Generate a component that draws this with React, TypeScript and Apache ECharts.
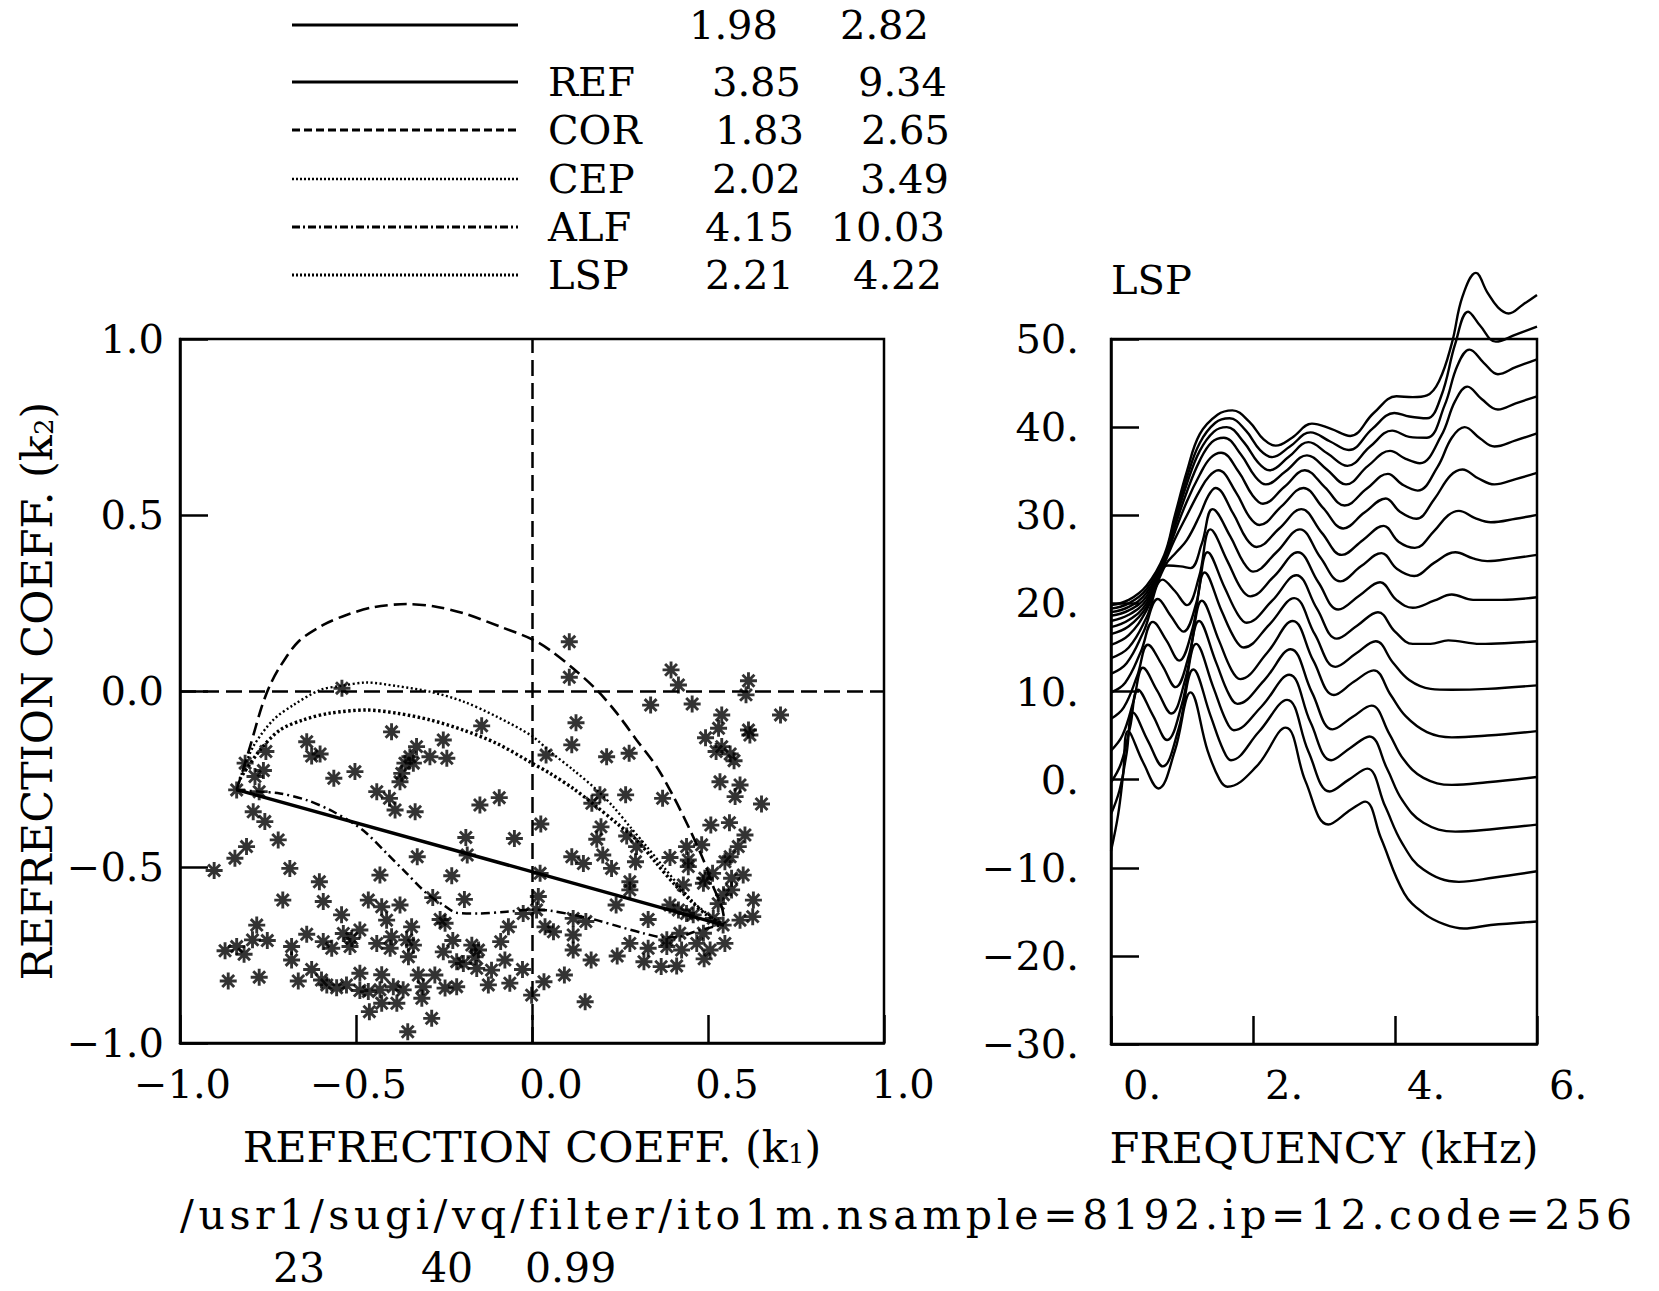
import React, { useEffect, useRef } from 'react';
import * as echarts from 'echarts';

const FONT = 'DejaVu Serif';

// ---------- left plot: reflection coefficients ----------
const scatterPoints: number[][] = [
  [-0.54, 0.008], [-0.399, -0.116], [-0.143, -0.099], [-0.64, -0.144], [-0.626, -0.185], [-0.602, -0.179],
  [-0.756, -0.172], [-0.815, -0.205], [-0.763, -0.226], [-0.787, -0.243], [-0.563, -0.248], [-0.503, -0.229],
  [-0.328, -0.158], [-0.347, -0.187], [-0.361, -0.205], [-0.337, -0.205], [-0.37, -0.234], [-0.375, -0.258],
  [-0.29, -0.187], [-0.252, -0.139], [-0.242, -0.191], [-0.839, -0.281], [-0.775, -0.286], [-0.441, -0.286],
  [-0.405, -0.305], [-0.389, -0.338], [-0.332, -0.343], [-0.792, -0.343], [-0.759, -0.371], [-0.148, -0.324],
  [-0.093, -0.303], [-0.721, -0.423], [-0.811, -0.442], [-0.844, -0.475], [-0.903, -0.51], [-0.188, -0.416],
  [-0.05, -0.419], [-0.184, -0.466], [-0.326, -0.471], [-0.688, -0.504], [-0.432, -0.523], [-0.228, -0.525],
  [-0.604, -0.542], [-0.708, -0.594], [-0.593, -0.598], [-0.465, -0.594], [-0.427, -0.613], [-0.375, -0.608],
  [-0.282, -0.587], [-0.192, -0.592], [-0.541, -0.636], [-0.413, -0.651], [-0.261, -0.649], [-0.247, -0.66],
  [-0.782, -0.665], [-0.794, -0.707], [-0.752, -0.709], [-0.342, -0.67], [-0.489, -0.679], [-0.536, -0.689],
  [-0.512, -0.703], [-0.64, -0.691], [-0.399, -0.698], [-0.067, -0.67], [-0.025, -0.632], [-0.872, -0.738],
  [-0.839, -0.726], [-0.818, -0.748], [-0.683, -0.726], [-0.683, -0.764], [-0.593, -0.712], [-0.569, -0.731],
  [-0.517, -0.726], [-0.441, -0.717], [-0.403, -0.731], [-0.356, -0.707], [-0.337, -0.722], [-0.351, -0.755],
  [-0.225, -0.709], [-0.252, -0.741], [-0.171, -0.722], [-0.152, -0.736], [-0.089, -0.712], [-0.214, -0.769],
  [-0.195, -0.774], [-0.162, -0.755], [-0.157, -0.788], [-0.077, -0.764], [-0.115, -0.793], [-0.027, -0.791],
  [-0.863, -0.824], [-0.775, -0.813], [-0.664, -0.824], [-0.626, -0.791], [-0.598, -0.821], [-0.583, -0.835],
  [-0.555, -0.843], [-0.527, -0.835], [-0.489, -0.802], [-0.489, -0.851], [-0.465, -0.854], [-0.427, -0.806],
  [-0.432, -0.849], [-0.394, -0.84], [-0.366, -0.849], [-0.427, -0.887], [-0.384, -0.887], [-0.323, -0.807],
  [-0.276, -0.807], [-0.309, -0.84], [-0.313, -0.873], [-0.247, -0.844], [-0.214, -0.84], [-0.124, -0.835],
  [-0.063, -0.83], [-0.001, -0.864], [-0.462, -0.911], [-0.285, -0.93], [-0.353, -0.968],
  [0.106, 0.14], [0.106, 0.039], [0.395, 0.06], [0.416, 0.017], [0.615, 0.029], [0.608, -0.011],
  [0.337, -0.04], [0.455, -0.037], [0.706, -0.068], [0.539, -0.068], [0.53, -0.106], [0.615, -0.111],
  [0.619, -0.125], [0.493, -0.133], [0.539, -0.158], [0.523, -0.172], [0.563, -0.179], [0.574, -0.198],
  [0.125, -0.09], [0.113, -0.153], [0.04, -0.182], [0.212, -0.187], [0.276, -0.177], [0.534, -0.258],
  [0.591, -0.267], [0.577, -0.3], [0.652, -0.321], [0.193, -0.295], [0.17, -0.319], [0.266, -0.295],
  [0.371, -0.305], [0.025, -0.378], [0.196, -0.386], [0.184, -0.421], [0.269, -0.412], [0.297, -0.442],
  [0.508, -0.381], [0.561, -0.374], [0.605, -0.409], [0.586, -0.442], [0.482, -0.437], [0.439, -0.442],
  [0.563, -0.471], [0.548, -0.485], [0.113, -0.471], [0.146, -0.49], [0.201, -0.466], [0.226, -0.504],
  [0.294, -0.485], [0.392, -0.473], [0.444, -0.48], [0.444, -0.499], [0.023, -0.518], [0.278, -0.542],
  [0.278, -0.565], [0.491, -0.532], [0.513, -0.518], [0.487, -0.546], [0.43, -0.551], [0.567, -0.532],
  [0.6, -0.523], [0.567, -0.565], [0.544, -0.579], [0.629, -0.594], [0.529, -0.604], [0.018, -0.584],
  [0.013, -0.622], [0.239, -0.608], [0.392, -0.608], [0.416, -0.622], [0.439, -0.632], [0.458, -0.636],
  [0.515, -0.646], [0.543, -0.665], [0.591, -0.651], [0.627, -0.641], [0.33, -0.649], [0.037, -0.67],
  [0.061, -0.684], [0.117, -0.646], [0.153, -0.655], [0.117, -0.693], [0.117, -0.736], [0.383, -0.707],
  [0.42, -0.688], [0.383, -0.726], [0.425, -0.736], [0.468, -0.717], [0.487, -0.688], [0.506, -0.736],
  [0.548, -0.717], [0.489, -0.761], [0.278, -0.717], [0.33, -0.731], [0.242, -0.753], [0.168, -0.764],
  [0.318, -0.769], [0.367, -0.783], [0.411, -0.781], [0.092, -0.807], [0.034, -0.826], [0.151, -0.883],
];

const refLine = [[-0.84, -0.28], [0.545, -0.665]];
const corLine = [
  [-0.839, -0.281], [-0.801, -0.158], [-0.768, -0.045], [-0.744, 0.017], [-0.716, 0.069], [-0.664, 0.14],
  [-0.593, 0.188], [-0.527, 0.216], [-0.451, 0.238], [-0.356, 0.247], [-0.28, 0.241], [-0.195, 0.221],
  [-0.091, 0.183], [0.0, 0.147], [0.051, 0.116], [0.117, 0.064], [0.184, 0.003], [0.241, -0.063],
  [0.297, -0.139], [0.354, -0.215], [0.402, -0.3], [0.449, -0.395], [0.487, -0.48], [0.515, -0.556],
  [0.539, -0.613], [0.548, -0.66],
];
const cepLine = [
  [-0.83, -0.25], [-0.792, -0.158], [-0.735, -0.082], [-0.678, -0.04], [-0.602, 0.003], [-0.545, 0.014],
  [-0.47, 0.024], [-0.384, 0.014], [-0.29, -0.002], [-0.195, -0.03], [-0.1, -0.073], [0.0, -0.128],
  [0.051, -0.172], [0.117, -0.224], [0.184, -0.281], [0.231, -0.329], [0.278, -0.385], [0.326, -0.442],
  [0.373, -0.499], [0.42, -0.556], [0.462, -0.603], [0.515, -0.646], [0.545, -0.665],
];
const alfLine = [
  [-0.839, -0.281], [-0.773, -0.286], [-0.716, -0.291], [-0.64, -0.31], [-0.574, -0.338], [-0.508, -0.376],
  [-0.47, -0.404], [-0.413, -0.461], [-0.356, -0.518], [-0.299, -0.575], [-0.252, -0.608], [-0.214, -0.63],
  [-0.148, -0.632], [-0.072, -0.627], [0.0, -0.621], [0.051, -0.624], [0.117, -0.636], [0.184, -0.651],
  [0.25, -0.67], [0.316, -0.688], [0.373, -0.7], [0.42, -0.698], [0.462, -0.684], [0.515, -0.67], [0.545, -0.665],
];
const lspLine = [
  [-0.83, -0.25], [-0.773, -0.168], [-0.716, -0.111], [-0.65, -0.082], [-0.574, -0.063], [-0.47, -0.054],
  [-0.384, -0.063], [-0.29, -0.082], [-0.195, -0.111], [-0.1, -0.149], [-0.003, -0.203], [0.051, -0.234],
  [0.117, -0.277], [0.184, -0.329], [0.241, -0.376], [0.297, -0.423], [0.354, -0.49], [0.402, -0.546],
  [0.449, -0.594], [0.496, -0.636], [0.545, -0.665],
];

// ---------- right plot: LSP spectra (kHz, dB), top curve first ----------
const spec01 = [[0,19.8],[0.25,20.4],[0.5,22.0],[0.75,25.5],[0.9,30.0],[1.07,35.0],[1.25,39.2],[1.5,41.4],[1.71,41.9],[1.95,40.6],[2.15,38.6],[2.32,37.9],[2.55,38.8],[2.83,40.4],[3.1,39.8],[3.37,39.0],[3.7,41.6],[4.02,43.5],[4.25,43.4],[4.45,43.6],[4.62,45.2],[4.8,49.5],[4.95,54.8],[5.14,57.5],[5.3,55.3],[5.45,53.6],[5.6,52.9],[5.8,53.9],[6.0,55.0]];
const spec02 = [[0,19.4],[0.25,20.0],[0.5,21.6],[0.75,25.2],[0.9,29.6],[1.07,34.3],[1.25,38.2],[1.47,40.5],[1.67,41.0],[1.9,39.6],[2.1,37.4],[2.27,36.6],[2.52,37.8],[2.81,39.4],[3.08,38.4],[3.35,37.4],[3.68,39.8],[3.99,41.6],[4.2,41.2],[4.45,41.0],[4.65,43.5],[4.85,49.5],[5.03,53.1],[5.2,51.5],[5.42,49.7],[5.7,50.5],[6.0,51.4]];
const spec03 = [[0,19.0],[0.25,19.6],[0.5,21.2],[0.75,25.0],[0.9,29.2],[1.07,33.6],[1.25,37.3],[1.45,39.5],[1.63,40.0],[1.87,38.3],[2.07,36.0],[2.23,35.1],[2.5,36.6],[2.78,38.3],[3.05,37.0],[3.33,35.6],[3.65,37.8],[3.96,39.6],[4.2,38.9],[4.45,38.8],[4.7,42.5],[4.88,47.0],[5.05,48.8],[5.25,47.3],[5.45,46.0],[5.7,46.8],[6.0,47.7]];
const spec04 = [[0,18.6],[0.25,19.2],[0.5,20.8],[0.75,24.9],[0.9,28.7],[1.07,32.7],[1.25,36.2],[1.42,38.3],[1.59,38.8],[1.83,36.9],[2.03,34.4],[2.18,33.5],[2.46,35.0],[2.76,36.8],[3.04,35.2],[3.31,33.5],[3.62,35.6],[3.93,37.3],[4.15,36.4],[4.35,35.9],[4.65,39.0],[4.85,43.0],[5.02,44.6],[5.22,43.2],[5.45,42.0],[5.7,42.7],[6.0,43.5]];
const spec05 = [[0,18.0],[0.25,18.7],[0.5,20.4],[0.75,24.7],[0.9,28.1],[1.07,31.6],[1.25,34.6],[1.4,36.5],[1.55,37.1],[1.8,34.9],[1.99,32.3],[2.14,31.3],[2.44,33.2],[2.73,35.1],[3.01,33.2],[3.29,31.1],[3.6,33.0],[3.9,34.7],[4.1,33.5],[4.32,32.8],[4.6,35.5],[4.8,38.8],[4.98,40.0],[5.2,38.7],[5.4,37.8],[5.7,38.5],[6.0,39.3]];
const spec06 = [[0,17.3],[0.25,18.1],[0.5,20.0],[0.75,24.5],[0.9,27.3],[1.07,30.0],[1.25,32.8],[1.38,34.4],[1.51,35.1],[1.76,32.6],[1.95,29.8],[2.09,28.9],[2.4,31.0],[2.71,33.1],[2.99,30.8],[3.27,28.5],[3.57,30.3],[3.87,31.9],[4.07,30.4],[4.3,29.6],[4.55,31.8],[4.78,34.5],[4.95,35.2],[5.17,34.2],[5.4,33.5],[5.7,34.1],[6.0,34.8]];
const spec07 = [[0,16.5],[0.25,17.4],[0.5,19.6],[0.77,24.4],[0.92,25.8],[1.07,27.2],[1.25,30.0],[1.37,32.2],[1.47,33.1],[1.72,30.2],[1.91,27.3],[2.05,26.4],[2.37,28.5],[2.68,30.7],[2.97,28.0],[3.25,25.5],[3.55,27.2],[3.84,28.8],[4.05,27.0],[4.28,26.3],[4.55,28.2],[4.75,30.0],[4.9,30.5],[5.12,29.7],[5.35,29.2],[5.7,29.6],[6.0,30.05]];
const spec08 = [[0,15.3],[0.25,16.4],[0.5,19.2],[0.8,24.3],[0.98,24.2],[1.12,24.0],[1.28,26.8],[1.43,30.7],[1.68,27.6],[1.87,24.6],[2.0,23.6],[2.33,25.8],[2.66,28.4],[2.95,25.2],[3.23,22.5],[3.52,24.2],[3.81,25.7],[4.03,23.9],[4.27,23.1],[4.55,24.6],[4.85,25.8],[5.1,25.1],[5.3,24.8],[5.65,25.1],[6.0,25.5]];
const spec09 = [[0,13.8],[0.25,15.0],[0.5,18.4],[0.73,22.7],[0.9,21.4],[1.07,19.8],[1.24,23.0],[1.4,28.4],[1.64,24.8],[1.83,21.7],[1.96,20.8],[2.3,23.1],[2.63,25.8],[2.92,22.4],[3.2,19.3],[3.5,20.9],[3.79,22.4],[4.02,20.4],[4.25,19.5],[4.55,20.3],[4.8,21.0],[5.1,20.4],[5.5,20.4],[6.0,20.7]];
const spec10 = [[0,12.0],[0.22,13.2],[0.46,16.8],[0.66,20.5],[0.84,18.6],[1.02,16.8],[1.2,20.0],[1.36,25.8],[1.6,21.8],[1.79,18.7],[1.91,17.8],[2.27,20.3],[2.61,23.2],[2.9,19.4],[3.18,16.0],[3.47,17.5],[3.76,19.0],[4.0,16.8],[4.25,15.4],[4.5,15.4],[4.75,15.8],[5.2,15.4],[5.6,15.5],[6.0,15.7]];
const spec11 = [[0,9.9],[0.2,11.0],[0.42,14.5],[0.59,17.9],[0.78,15.8],[0.96,13.5],[1.15,17.2],[1.32,23.5],[1.56,19.1],[1.75,15.9],[1.87,15.0],[2.23,17.6],[2.58,20.6],[2.87,16.5],[3.16,12.8],[3.45,14.3],[3.73,15.7],[3.97,13.3],[4.2,11.3],[4.5,10.3],[4.8,10.2],[5.3,10.3],[6.0,10.7]];
const spec12 = [[0,6.9],[0.18,8.2],[0.37,11.8],[0.52,15.3],[0.72,13.0],[0.91,10.5],[1.1,14.2],[1.28,20.3],[1.52,15.8],[1.7,12.4],[1.82,11.4],[2.2,14.4],[2.56,18.0],[2.85,13.5],[3.14,9.6],[3.42,11.1],[3.7,12.4],[3.94,9.6],[4.15,7.2],[4.45,5.4],[4.8,4.8],[5.3,5.0],[6.0,5.5]];
const spec13 = [[0,3.3],[0.16,5.0],[0.32,9.0],[0.45,12.7],[0.65,10.1],[0.85,7.5],[1.05,11.5],[1.24,18.0],[1.48,13.3],[1.66,9.7],[1.78,8.6],[2.16,11.3],[2.53,14.8],[2.83,9.9],[3.12,5.7],[3.4,7.1],[3.67,8.4],[3.92,5.2],[4.12,2.3],[4.4,0.2],[4.8,-0.6],[5.3,-0.3],[6.0,0.3]];
const spec14 = [[0,-0.3],[0.14,1.8],[0.27,6.0],[0.38,10.2],[0.59,7.3],[0.79,4.5],[1.0,8.6],[1.2,15.4],[1.44,10.5],[1.62,6.7],[1.73,5.6],[2.12,8.3],[2.51,11.9],[2.81,6.5],[3.1,2.2],[3.37,3.6],[3.64,4.9],[3.89,1.2],[4.1,-2.3],[4.4,-4.9],[4.85,-5.9],[5.4,-5.6],[6.0,-5.1]];
const spec15 = [[0,-3.9],[0.12,-1.2],[0.22,3.0],[0.31,7.6],[0.52,4.4],[0.73,1.5],[0.95,5.7],[1.16,12.5],[1.4,7.3],[1.58,3.4],[1.69,2.2],[2.08,5.4],[2.48,9.05],[2.78,3.2],[3.08,-1.35],[3.35,0.0],[3.61,1.25],[3.86,-3.0],[4.1,-7.2],[4.4,-10.2],[4.9,-11.6],[5.4,-11.1],[6.0,-10.4]];
const spec16 = [[0,-8.1],[0.1,-4.0],[0.17,0.5],[0.24,5.5],[0.45,2.0],[0.67,-1.0],[0.9,3.3],[1.12,9.9],[1.36,3.3],[1.53,0.0],[1.64,-0.8],[2.05,1.5],[2.46,5.9],[2.74,-0.2],[3.06,-5.1],[3.38,-3.4],[3.58,-2.5],[3.8,-6.6],[4.13,-12.9],[4.41,-15.2],[4.69,-16.4],[4.97,-16.9],[5.35,-16.5],[6.0,-16.1]];
const spectra = [spec01, spec02, spec03, spec04, spec05, spec06, spec07, spec08, spec09, spec10, spec11, spec12, spec13, spec14, spec15, spec16];

// ---------- legend table ----------
const legendNames = ['', 'REF', 'COR', 'CEP', 'ALF', 'LSP'];
const legendCol1 = ['1.98', '3.85', '1.83', '2.02', '4.15', '2.21'];
const legendCol2 = ['2.82', '9.34', '2.65', '3.49', '10.03', '4.22'];
const footerPath = '/usr1/sugi/vq/filter/ito1m.nsample=8192.ip=12.code=256';
const footerNumbers = ['23', '40', '0.99'];

const legendRowY = [25, 82, 130, 179, 227, 275];
const legendCol1Right = [778, 801, 804, 801, 794, 794];
const legendCol2Right = [929, 947, 950, 949, 945, 942];
const legendLineStyles = [
  { lineWidth: 3, lineDash: null },
  { lineWidth: 3, lineDash: null },
  { lineWidth: 2.8, lineDash: [8, 4] },
  { lineWidth: 2.6, lineDash: [2, 2] },
  { lineWidth: 2.8, lineDash: [8, 3, 2, 3] },
  { lineWidth: 3, lineDash: [2, 2] },
];

const minus = (v: number) => (v < 0 ? '\u2212' : '');

function buildOption() {
  const axisLineStyle = { color: '#000', width: 2.5 };
  const tick = { show: true, inside: true, length: 28, lineStyle: { color: '#000', width: 2.5 } };

  const graphics: any[] = [];
  legendRowY.forEach((y, i) => {
    const ls = legendLineStyles[i];
    graphics.push({
      type: 'line',
      shape: { x1: 292, y1: y, x2: 518, y2: y },
      style: { stroke: '#000', lineWidth: ls.lineWidth, lineDash: ls.lineDash },
    });
    if (legendNames[i]) {
      graphics.push({ type: 'text', x: 548, y, style: { text: legendNames[i], fontSize: 40, fontFamily: FONT, fill: '#000', align: 'left', verticalAlign: 'middle' } });
    }
    graphics.push({ type: 'text', x: legendCol1Right[i], y, style: { text: legendCol1[i], fontSize: 40, fontFamily: FONT, fill: '#000', align: 'right', verticalAlign: 'middle' } });
    graphics.push({ type: 'text', x: legendCol2Right[i], y, style: { text: legendCol2[i], fontSize: 40, fontFamily: FONT, fill: '#000', align: 'right', verticalAlign: 'middle' } });
  });
  graphics.push({ type: 'text', x: 1111, y: 280, style: { text: 'LSP', fontSize: 40, fontFamily: FONT, fill: '#000', align: 'left', verticalAlign: 'middle' } });
  graphics.push({ type: 'text', x: 180, y: 1215, style: { text: footerPath, fontSize: 41, fontFamily: FONT, fill: '#000', align: 'left', verticalAlign: 'middle' } });
  const footerX = [273, 421, 525];
  footerNumbers.forEach((t, i) => {
    graphics.push({ type: 'text', x: footerX[i], y: 1268, style: { text: t, fontSize: 41, fontFamily: FONT, fill: '#000', align: 'left', verticalAlign: 'middle' } });
  });

  const lineCommon = { type: 'line', xAxisIndex: 0, yAxisIndex: 0, showSymbol: false, symbol: 'none', smooth: 0.3, silent: true };

  const series: any[] = [
    {
      type: 'scatter',
      xAxisIndex: 0,
      yAxisIndex: 0,
      data: scatterPoints,
      symbol: 'path://M10,0L10,20M0,10L20,10M3,3L17,17M3,17L17,3',
      symbolSize: 17,
      itemStyle: { color: 'rgba(0,0,0,0)', borderColor: '#000', borderWidth: 2.9 },
      silent: true,
      markLine: {
        silent: true,
        symbol: 'none',
        label: { show: false },
        lineStyle: { color: '#000', type: [16, 7], width: 2.5 },
        data: [{ xAxis: 0 }, { yAxis: 0 }],
      },
    },
    { ...lineCommon, name: 'REF', data: refLine, smooth: false, lineStyle: { color: '#000', width: 3.4 } },
    { ...lineCommon, name: 'COR', data: corLine, lineStyle: { color: '#000', width: 2.6, type: [13, 6] } },
    { ...lineCommon, name: 'CEP', data: cepLine, lineStyle: { color: '#000', width: 2.4, type: [2, 2.5] } },
    { ...lineCommon, name: 'ALF', data: alfLine, lineStyle: { color: '#000', width: 2.5, type: [9, 4, 2, 4] } },
    { ...lineCommon, name: 'LSP', data: lspLine, lineStyle: { color: '#000', width: 3.4, type: [2.5, 2.5] } },
  ];
  spectra.forEach((d, i) => {
    series.push({
      type: 'line',
      name: 'spec' + (i + 1),
      xAxisIndex: 1,
      yAxisIndex: 1,
      data: d,
      showSymbol: false,
      symbol: 'none',
      smooth: 0.4,
      clip: false,
      silent: true,
      lineStyle: { color: '#000', width: 2.4 },
    });
  });

  return {
    animation: false,
    backgroundColor: '#fff',
    textStyle: { fontFamily: FONT, color: '#000' },
    grid: [
      { left: 180, top: 339, width: 704, height: 704, show: true, borderColor: '#000', borderWidth: 2.5, backgroundColor: 'rgba(0,0,0,0)', containLabel: false, outerBoundsMode: 'none' },
      { left: 1111, top: 339, width: 426, height: 705, show: true, borderColor: '#000', borderWidth: 2.5, backgroundColor: 'rgba(0,0,0,0)', containLabel: false, outerBoundsMode: 'none' },
    ],
    xAxis: [
      {
        gridIndex: 0, type: 'value', min: -1, max: 1, interval: 0.5,
        axisLine: { show: true, onZero: false, lineStyle: axisLineStyle },
        axisTick: tick,
        splitLine: { show: false },
        axisLabel: {
          margin: 21, fontSize: 40, fontFamily: FONT, color: '#000', align: 'center',
          formatter: (v: number) => {
            const s = minus(v) + Math.abs(v).toFixed(1);
            return v < 0 ? `{n|${s}}` : `{p|${s}}`;
          },
          rich: {
            p: { fontSize: 40, fontFamily: FONT, color: '#000', padding: [0, 0, 0, 38] },
            n: { fontSize: 40, fontFamily: FONT, color: '#000', padding: [0, 0, 0, 5] },
          },
        },
        name: 'REFRECTION COEFF. (k{s|1})',
        nameLocation: 'middle',
        nameGap: 82,
        nameTextStyle: { fontSize: 43, fontFamily: FONT, color: '#000', rich: { s: { fontSize: 26, fontFamily: FONT, color: '#000', padding: [14, 0, 0, 0] } } },
      },
      {
        gridIndex: 1, type: 'value', min: 0, max: 6, interval: 2,
        axisLine: { show: true, onZero: false, lineStyle: axisLineStyle },
        axisTick: tick,
        splitLine: { show: false },
        axisLabel: {
          margin: 21, fontSize: 40, fontFamily: FONT, color: '#000', align: 'left', padding: [0, 0, 0, 12],
          formatter: (v: number) => minus(v) + Math.abs(v) + '.',
        },
        name: 'FREQUENCY (kHz)',
        nameLocation: 'middle',
        nameGap: 82,
        nameTextStyle: { fontSize: 43, fontFamily: FONT, color: '#000' },
      },
    ],
    yAxis: [
      {
        gridIndex: 0, type: 'value', min: -1, max: 1, interval: 0.5,
        axisLine: { show: true, onZero: false, lineStyle: axisLineStyle },
        axisTick: tick,
        splitLine: { show: false },
        axisLabel: {
          margin: 16, fontSize: 40, fontFamily: FONT, color: '#000',
          formatter: (v: number) => minus(v) + Math.abs(v).toFixed(1),
        },
        name: 'REFRECTION COEFF. (k{s|2})',
        nameLocation: 'middle',
        nameGap: 122,
        nameTextStyle: { fontSize: 43, fontFamily: FONT, color: '#000', rich: { s: { fontSize: 26, fontFamily: FONT, color: '#000', padding: [14, 0, 0, 0] } } },
      },
      {
        gridIndex: 1, type: 'value', min: -30, max: 50, interval: 10,
        axisLine: { show: true, onZero: false, lineStyle: axisLineStyle },
        axisTick: tick,
        splitLine: { show: false },
        axisLabel: {
          margin: 32, fontSize: 40, fontFamily: FONT, color: '#000',
          formatter: (v: number) => minus(v) + Math.abs(v) + '.',
        },
      },
    ],
    graphic: { elements: graphics },
    series,
  };
}

export default function App() {
  const ref = useRef<HTMLDivElement>(null);
  useEffect(() => {
    const el = ref.current!;
    const chart = echarts.init(el, null, { renderer: 'svg' });
    chart.setOption(buildOption() as any);
    const widen = () => {
      el.querySelectorAll('text').forEach((t) => {
        if (t.textContent && t.textContent.indexOf('/usr1') === 0) t.setAttribute('letter-spacing', '4.6');
      });
    };
    widen();
    chart.on('finished', widen);
    const timer = setTimeout(widen, 50);
    return () => {
      clearTimeout(timer);
      chart.dispose();
    };
  }, []);
  return <div ref={ref} style={{ position: 'fixed', left: 0, top: 0, width: 1659, height: 1291, background: '#fff' }} />;
}
